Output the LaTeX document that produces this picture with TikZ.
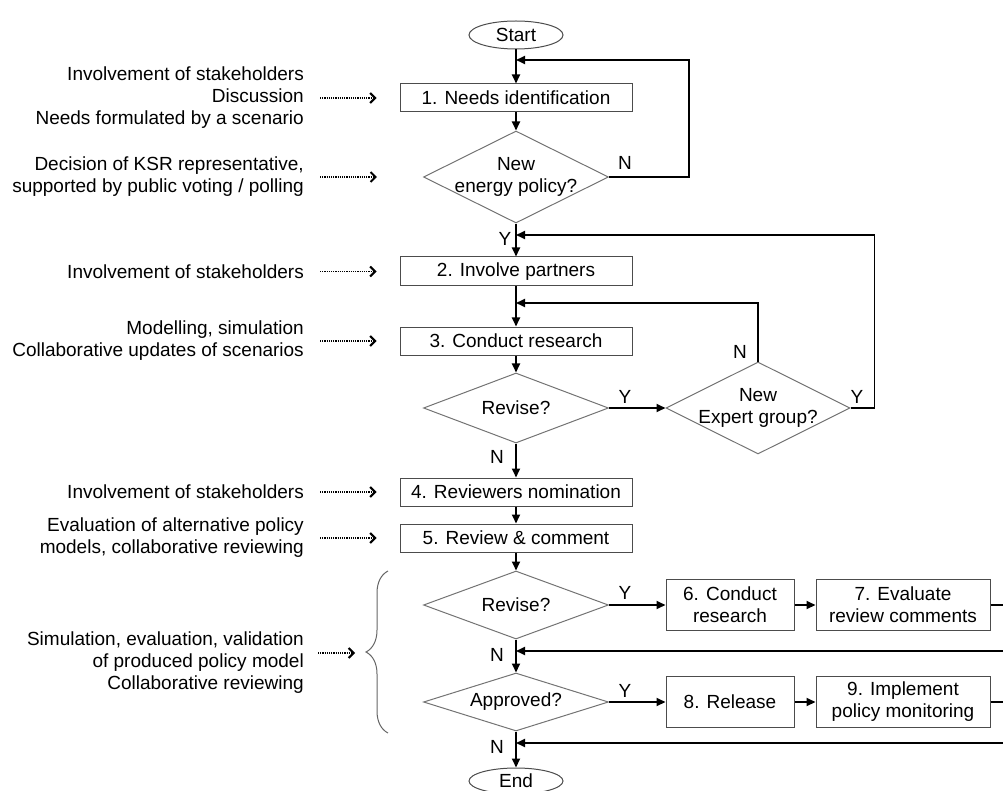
\documentclass[tikz,border=0pt]{standalone}
\usepackage{fontspec}
\setmainfont{Liberation Sans}
\usetikzlibrary{arrows.meta,shapes.geometric,decorations.pathreplacing}
\begin{document}
\begin{tikzpicture}[x=1pt,y=-1pt,
  every node/.style={font=\fontsize{19}{22}\selectfont},
  box/.style={draw=black!70, line width=1pt, rectangle, minimum width=232pt, minimum height=28pt, inner sep=0pt, align=center},
  sbox/.style={box, minimum width=128pt, minimum height=51pt},
  wbox/.style={box, minimum width=174pt, minimum height=51pt},
  dec/.style={draw=black!55, line width=1pt, diamond, inner sep=0pt, minimum width=185pt},
  term/.style={draw=black!70, line width=1pt, ellipse, minimum width=94pt, minimum height=28pt, inner sep=0pt},
  conn/.style={line width=1.8pt, -{Triangle[length=9pt,width=8pt]}},
  plain/.style={line width=1.8pt},
  note/.style={line width=1.4pt, dash pattern=on 1.2pt off 1pt, -{Straight Barb[length=5pt,width=10pt,line width=2pt]}},
  ann/.style={anchor=east, align=right, inner sep=0pt},
  lab/.style={inner sep=0pt},
  bracestyle/.style={draw=black!60, line width=1pt, decorate, decoration={brace, amplitude=22pt, aspect=0.5}},
]
\useasboundingbox (0,0) rectangle (1003,791);

% main column
\node[term] (start) at (516,35) {Start};
\node[box] (b1) at (516,98) {1. Needs identification};
\node[dec, minimum height=92pt, label={[align=center]center:New\\energy policy?}] (d1) at (516,177) {};
\node[box, minimum height=29pt] (b2) at (516,271.5) {2. Involve partners};
\node[box] (b3) at (516,341) {3. Conduct research};
\node[dec, minimum height=70pt, label={center:Revise?}] (d2) at (516,408) {};
\node[dec, minimum width=184pt, minimum height=92pt, label={[align=center]center:New\\Expert group?}] (de) at (758,408) {};
\node[box] (b4) at (516,492) {4. Reviewers nomination};
\node[box] (b5) at (516,538) {5. Review \& comment};
\node[dec, minimum height=68pt, label={center:Revise?}] (d3) at (516,605) {};
\node[sbox] (b6) at (730,605) {6. Conduct\\research};
\node[wbox] (b7) at (903,605) {7. Evaluate\\review comments};
\node[dec, minimum height=58pt, label={center:Approved?}] (d4) at (516,702) {};
\node[sbox] (b8) at (730,702) {8. Release};
\node[wbox] (b9) at (903,702) {9. Implement\\policy monitoring};
\node[term, minimum height=26pt] (end) at (516,781) {End};

% junction points
\coordinate (j1) at (516,60);
\coordinate (j2) at (516,235);
\coordinate (j3) at (516,303);
\coordinate (j4) at (516,651);
\coordinate (j5) at (516,743);
\coordinate (r1) at (1003,605);
\coordinate (r2) at (1003,651);
\coordinate (r3) at (1003,702);
\coordinate (r4) at (1003,743);

% connectors
\draw[conn] (start) -- (b1);
\draw[conn] (b1) -- (d1);
\draw[conn] (d1.east) -- ++(80,0) |- (j1);
\draw[conn] (d1) -- (b2);
\draw[conn] (de.east) -- ++(24,0) |- (j2);
\draw[conn] (b2) -- (b3);
\draw[conn] (de.north) |- (j3);
\draw[conn] (b3) -- (d2);
\draw[conn] (d2) -- (de);
\draw[conn] (d2) -- (b4);
\draw[conn] (b4) -- (b5);
\draw[conn] (b5) -- (d3);
\draw[conn] (d3) -- (b6);
\draw[conn] (b6) -- (b7);
\draw[plain] (b7) -- (r1);
\draw[conn] (r2) -- (j4);
\draw[conn] (d3) -- (d4);
\draw[conn] (d4) -- (b8);
\draw[conn] (b8) -- (b9);
\draw[plain] (b9) -- (r3);
\draw[conn] (r4) -- (j5);
\draw[conn] (d4) -- (end);

% Y / N labels
\node[lab] (n1) at (625,163) {N};
\node[lab] (y1) at (505,239) {Y};
\node[lab] (y2) at (625,397) {Y};
\node[lab] (n2) at (740,352) {N};
\node[lab] (y3) at (857,397) {Y};
\node[lab] (n3) at (497,457) {N};
\node[lab] (y4) at (625,593) {Y};
\node[lab] (n4) at (497,655) {N};
\node[lab] (y5) at (625,691) {Y};
\node[lab] (n5) at (497,747) {N};

% annotations
\node[ann] (a1) at (304,98) {Involvement of stakeholders\\Discussion\\Needs formulated by a scenario};
\node[ann] (a2) at (304,177) {Decision of KSR representative,\\supported by public voting / polling};
\node[ann] (a3) at (304,271.5) {Involvement of stakeholders};
\node[ann] (a4) at (304,341) {Modelling, simulation\\Collaborative updates of scenarios};
\node[ann] (a5) at (304,492) {Involvement of stakeholders};
\node[ann] (a6) at (304,538) {Evaluation of alternative policy\\models, collaborative reviewing};
\node[ann] (a7) at (304,663) {Simulation, evaluation, validation\\of produced policy model\\Collaborative reviewing};

\draw[note, shorten <=16pt, shorten >=23pt] (a1) -- (b1);
\draw[note, shorten <=16pt, shorten >=46pt] (a2) -- (d1);
\draw[note, shorten <=16pt, shorten >=23pt] (a3) -- (b2);
\draw[note, shorten <=16pt, shorten >=23pt] (a4) -- (b3);
\draw[note, shorten <=16pt, shorten >=23pt] (a5) -- (b4);
\draw[note, shorten <=16pt, shorten >=23pt] (a6) -- (b5);

% brace
\coordinate (bb) at (388,733);
\coordinate (bu) at (388,571);
\draw[bracestyle] (bb) -- (bu);
\coordinate (p7) at (318,653);
\coordinate (bt) at (355,653);
\draw[note] (p7) -- (bt);
\end{tikzpicture}
\end{document}
